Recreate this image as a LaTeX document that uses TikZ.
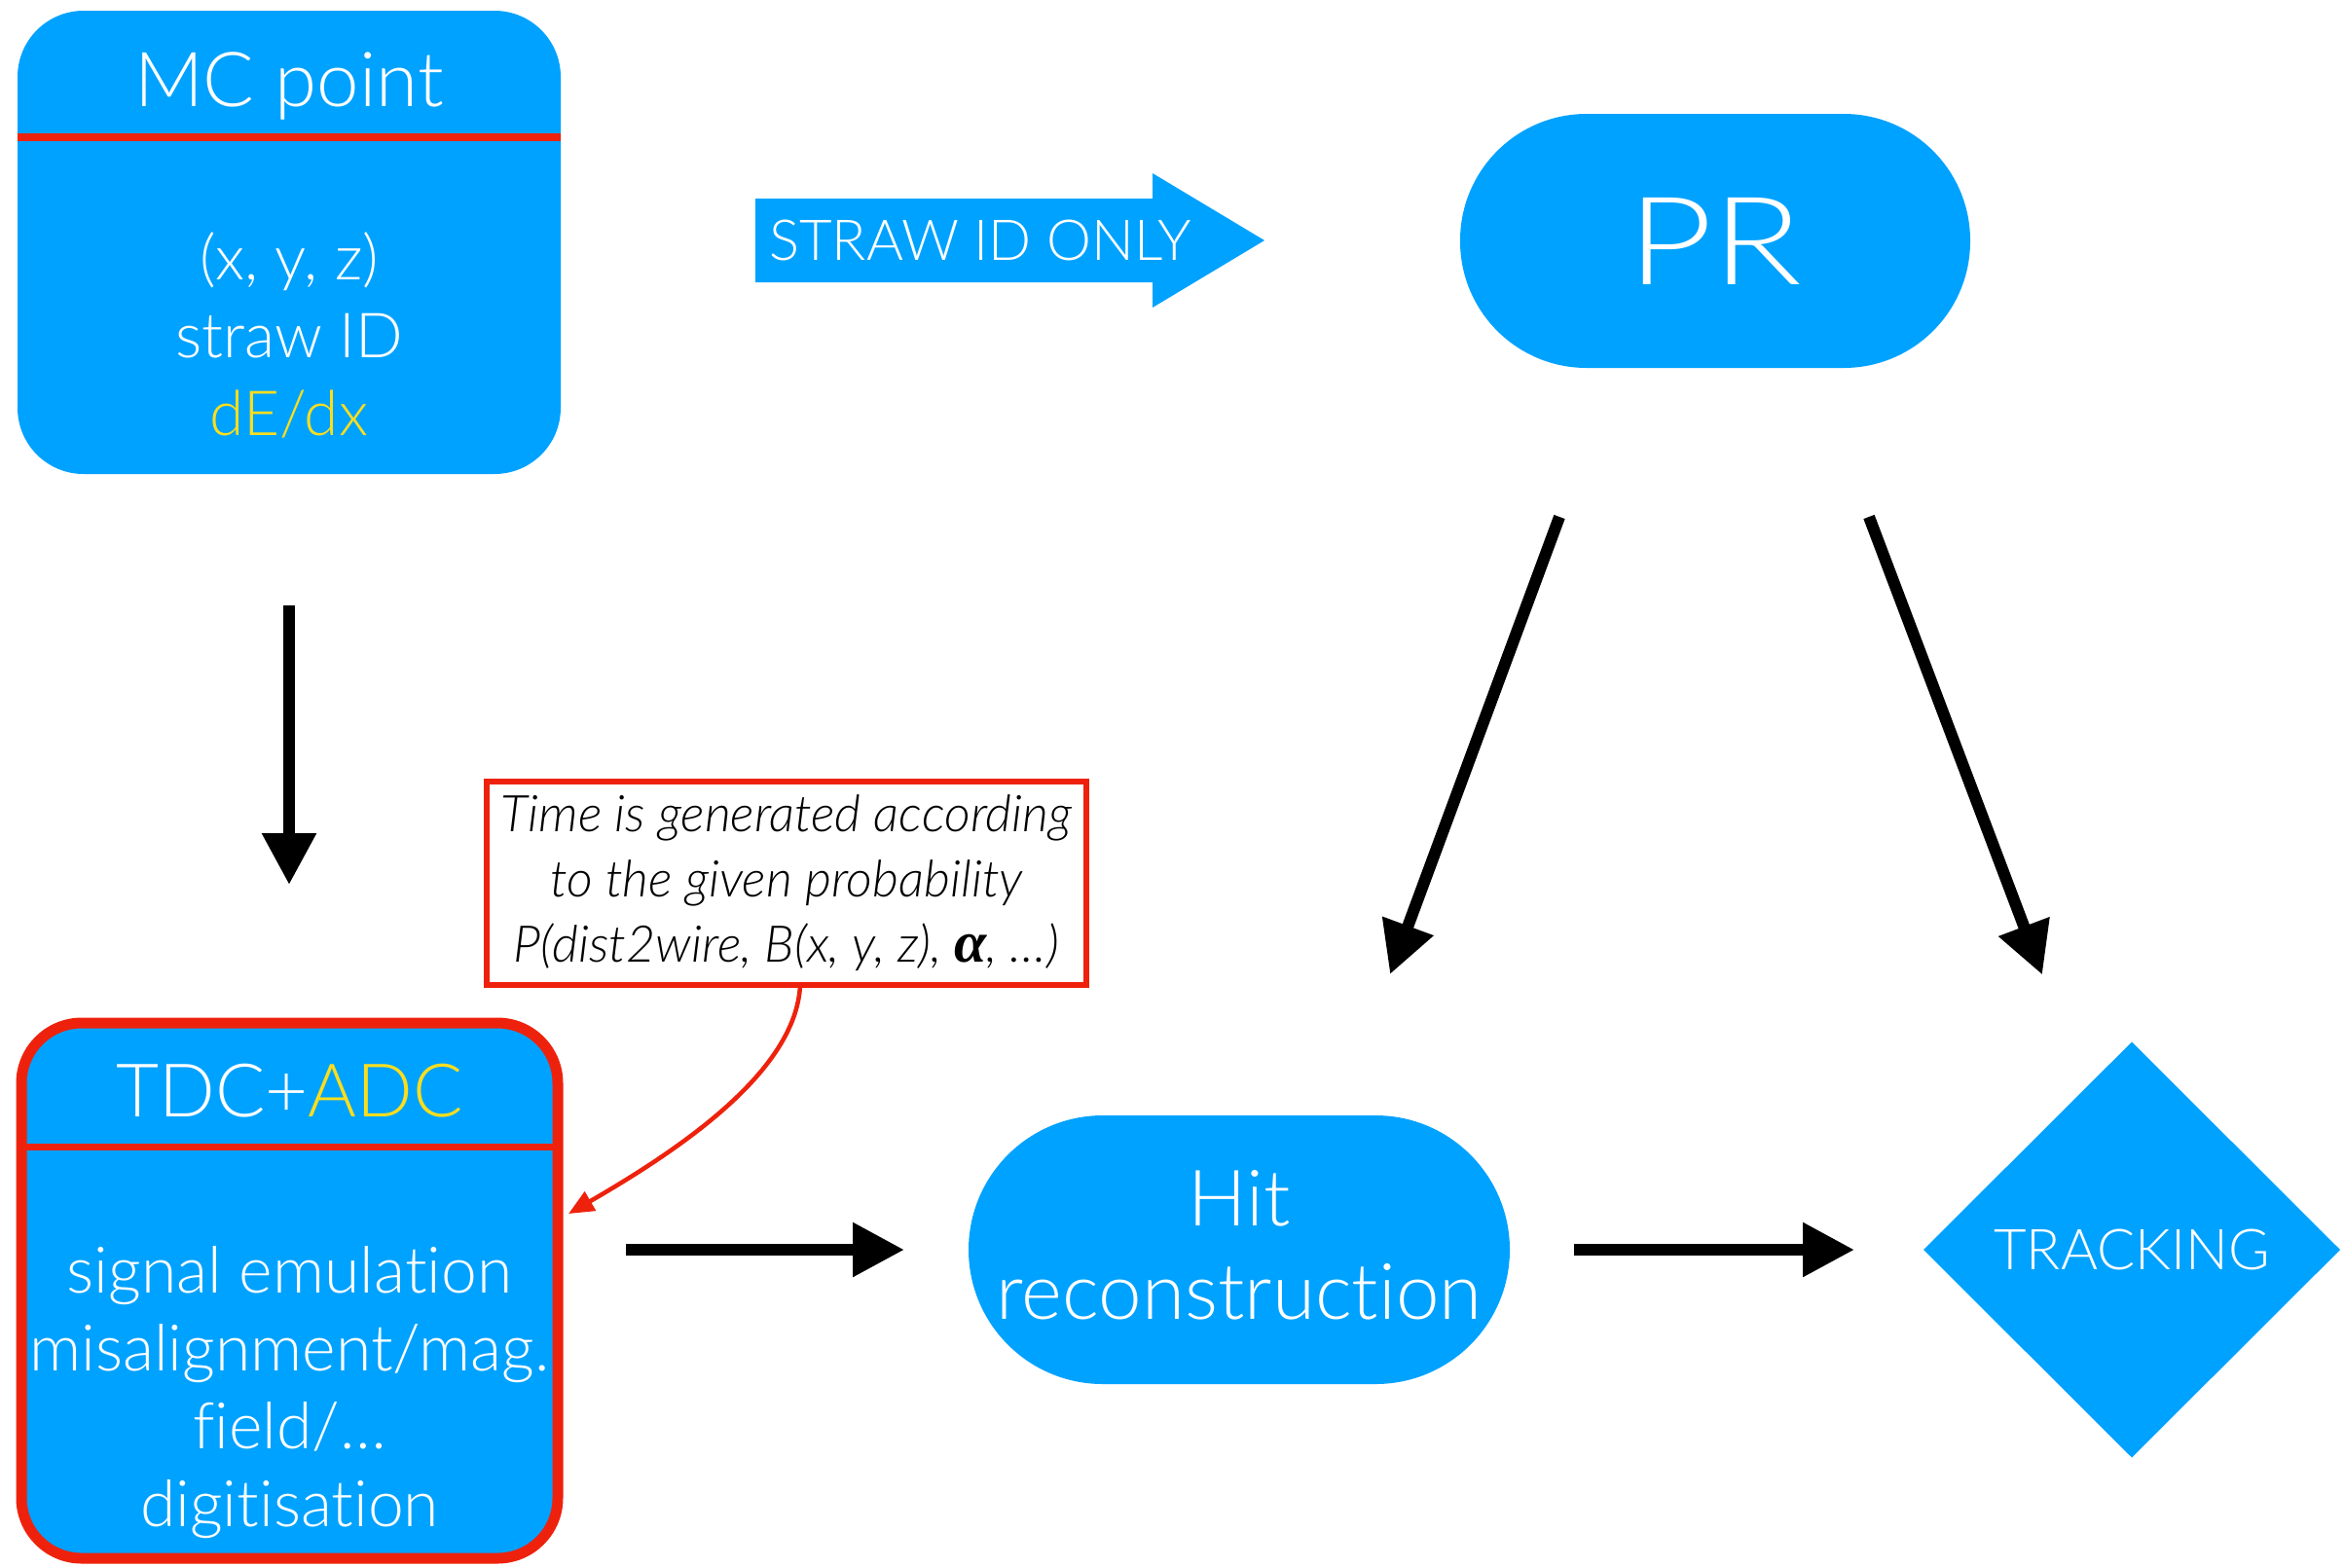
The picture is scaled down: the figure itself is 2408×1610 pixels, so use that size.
\documentclass[tikz,border=0pt]{standalone}
\usepackage{graphicx}
\usepackage{fontspec}
\setmainfont{Lato Light}[ItalicFont={Lato Light Italic}, Ligatures=NoCommon]
\newfontfamily\alphafont{Liberation Serif}
\usetikzlibrary{arrows.meta,shapes.geometric,calc}
\definecolor{kblue}{RGB}{0,162,255}
\definecolor{kred}{RGB}{238,34,12}
\definecolor{kyellow}{RGB}{250,222,30}
\begin{document}
\begin{tikzpicture}[x=1pt,y=-1pt,
  every node/.style={inner sep=0pt, outer sep=0pt},
  bluebox/.style={fill=kblue, rounded corners=68pt, minimum width=558pt, minimum height=476pt},
  tdcbox/.style={fill=kblue, draw=kred, line width=11pt, rounded corners=62pt, minimum width=551pt, minimum height=550pt},
  stadium/.style={fill=kblue, text=white, align=center},
  wtext/.style={text=white, align=center},
  arr/.style={line width=12pt, -{Triangle[length=53pt,width=53pt]}},
  redarr/.style={draw=kred, line width=4.5pt, -{Triangle[length=26pt,width=22pt]}},
  sep/.style={draw=kred, line width=8pt}
]
\useasboundingbox (0,0) rectangle (2408,1610);
\fill[white] (0,0) rectangle (2408,1610);

% MC point box
\node[bluebox] (mc) at (297,249) {};
\draw[sep] ($(mc.north west)+(0,130)$) -- ($(mc.north east)+(0,130)$);
\node[wtext, font=\fontsize{78}{90}\selectfont] (mctitle) at ($(mc.north)+(0,77)$) {MC point};
\node[wtext, font=\fontsize{64}{80}\selectfont] (mcbody) at ($(mc.north)+(0,333)$)
  {(x, y, z)\\straw ID\\\textcolor{kyellow}{dE/dx}};

% TDC+ADC box
\node[tdcbox] (tdc) at (297.5,1326) {};
\draw[sep, line width=7pt] ($(tdc.north west)+(0,127)$) -- ($(tdc.north east)+(0,127)$);
\node[wtext, font=\fontsize{76}{90}\selectfont] (tdctitle) at ($(tdc.north)+(0,70)$)
  {TDC+\textcolor{kyellow}{ADC}};
\node[wtext, font=\fontsize{66}{80}\selectfont] (tdcbody) at ($(tdc.north)+(0,380)$)
  {signal emulation\\misalignment/mag.\\field/\ldots\\digitisation};

% annotation
\node[draw=kred, line width=6pt, minimum width=616pt, minimum height=209pt,
      align=center, font=\itshape\fontsize{52}{67}\selectfont] (ann) at (808,907.5)
  {Time is generated according\\to the given probability\\P(dist2wire, B(x, y, z), {\alphafont\bfseries\itshape\fontsize{60}{67}\selectfont α}, \ldots)};
\coordinate (anntip) at ($(tdc.east)+(11,-79)$);
\draw[redarr] ($(ann.south)+(14,0)$) .. controls (818,1100) and (700,1180) .. (anntip);

% STRAW ID ONLY arrow
\fill[kblue] (776,204) -- (1184,204) -- (1184,178) -- (1299,247) -- (1184,316) -- (1184,290) -- (776,290) -- cycle;
\node[wtext, font=\fontsize{58}{70}\selectfont] (straw) at (1007,247) {STRAW ID ONLY};

% PR
\node[stadium, rounded corners=130pt, minimum width=524pt, minimum height=261pt,
      font=\fontsize{126}{130}\selectfont] (pr) at (1762,247.5) {\scalebox{1.2}[1]{PR}};

% Hit reconstruction
\node[stadium, rounded corners=138pt, minimum width=556pt, minimum height=276pt] (hit) at (1273,1284) {};
\node[wtext, font=\fontsize{80}{96}\selectfont] (hittext) at ($(hit.center)+(0,-5)$) {Hit\\reconstruction};

% TRACKING
\node[diamond, fill=kblue, text=white, minimum width=428pt, minimum height=427pt,
      font=\fontsize{58}{64}\selectfont] (track) at (2190,1284) {TRACKING};

% arrows
\draw[arr, shorten <=135pt, shorten >=142pt] (mc.south) -- (mc.south |- tdc.north);
\draw[arr, shorten <=70pt, shorten >=66pt] (tdc.east |- hit.west) -- (hit.west);
\draw[arr, shorten <=66pt, shorten >=71pt] (hit.east) -- (track.west);
\draw[arr] ($(pr.south)+(-160,153)$) -- ($(hit.north)+(155,-145)$);
\draw[arr] ($(pr.south)+(158,153)$) -- ($(track.north)+(-92,-69)$);
\end{tikzpicture}
\end{document}
